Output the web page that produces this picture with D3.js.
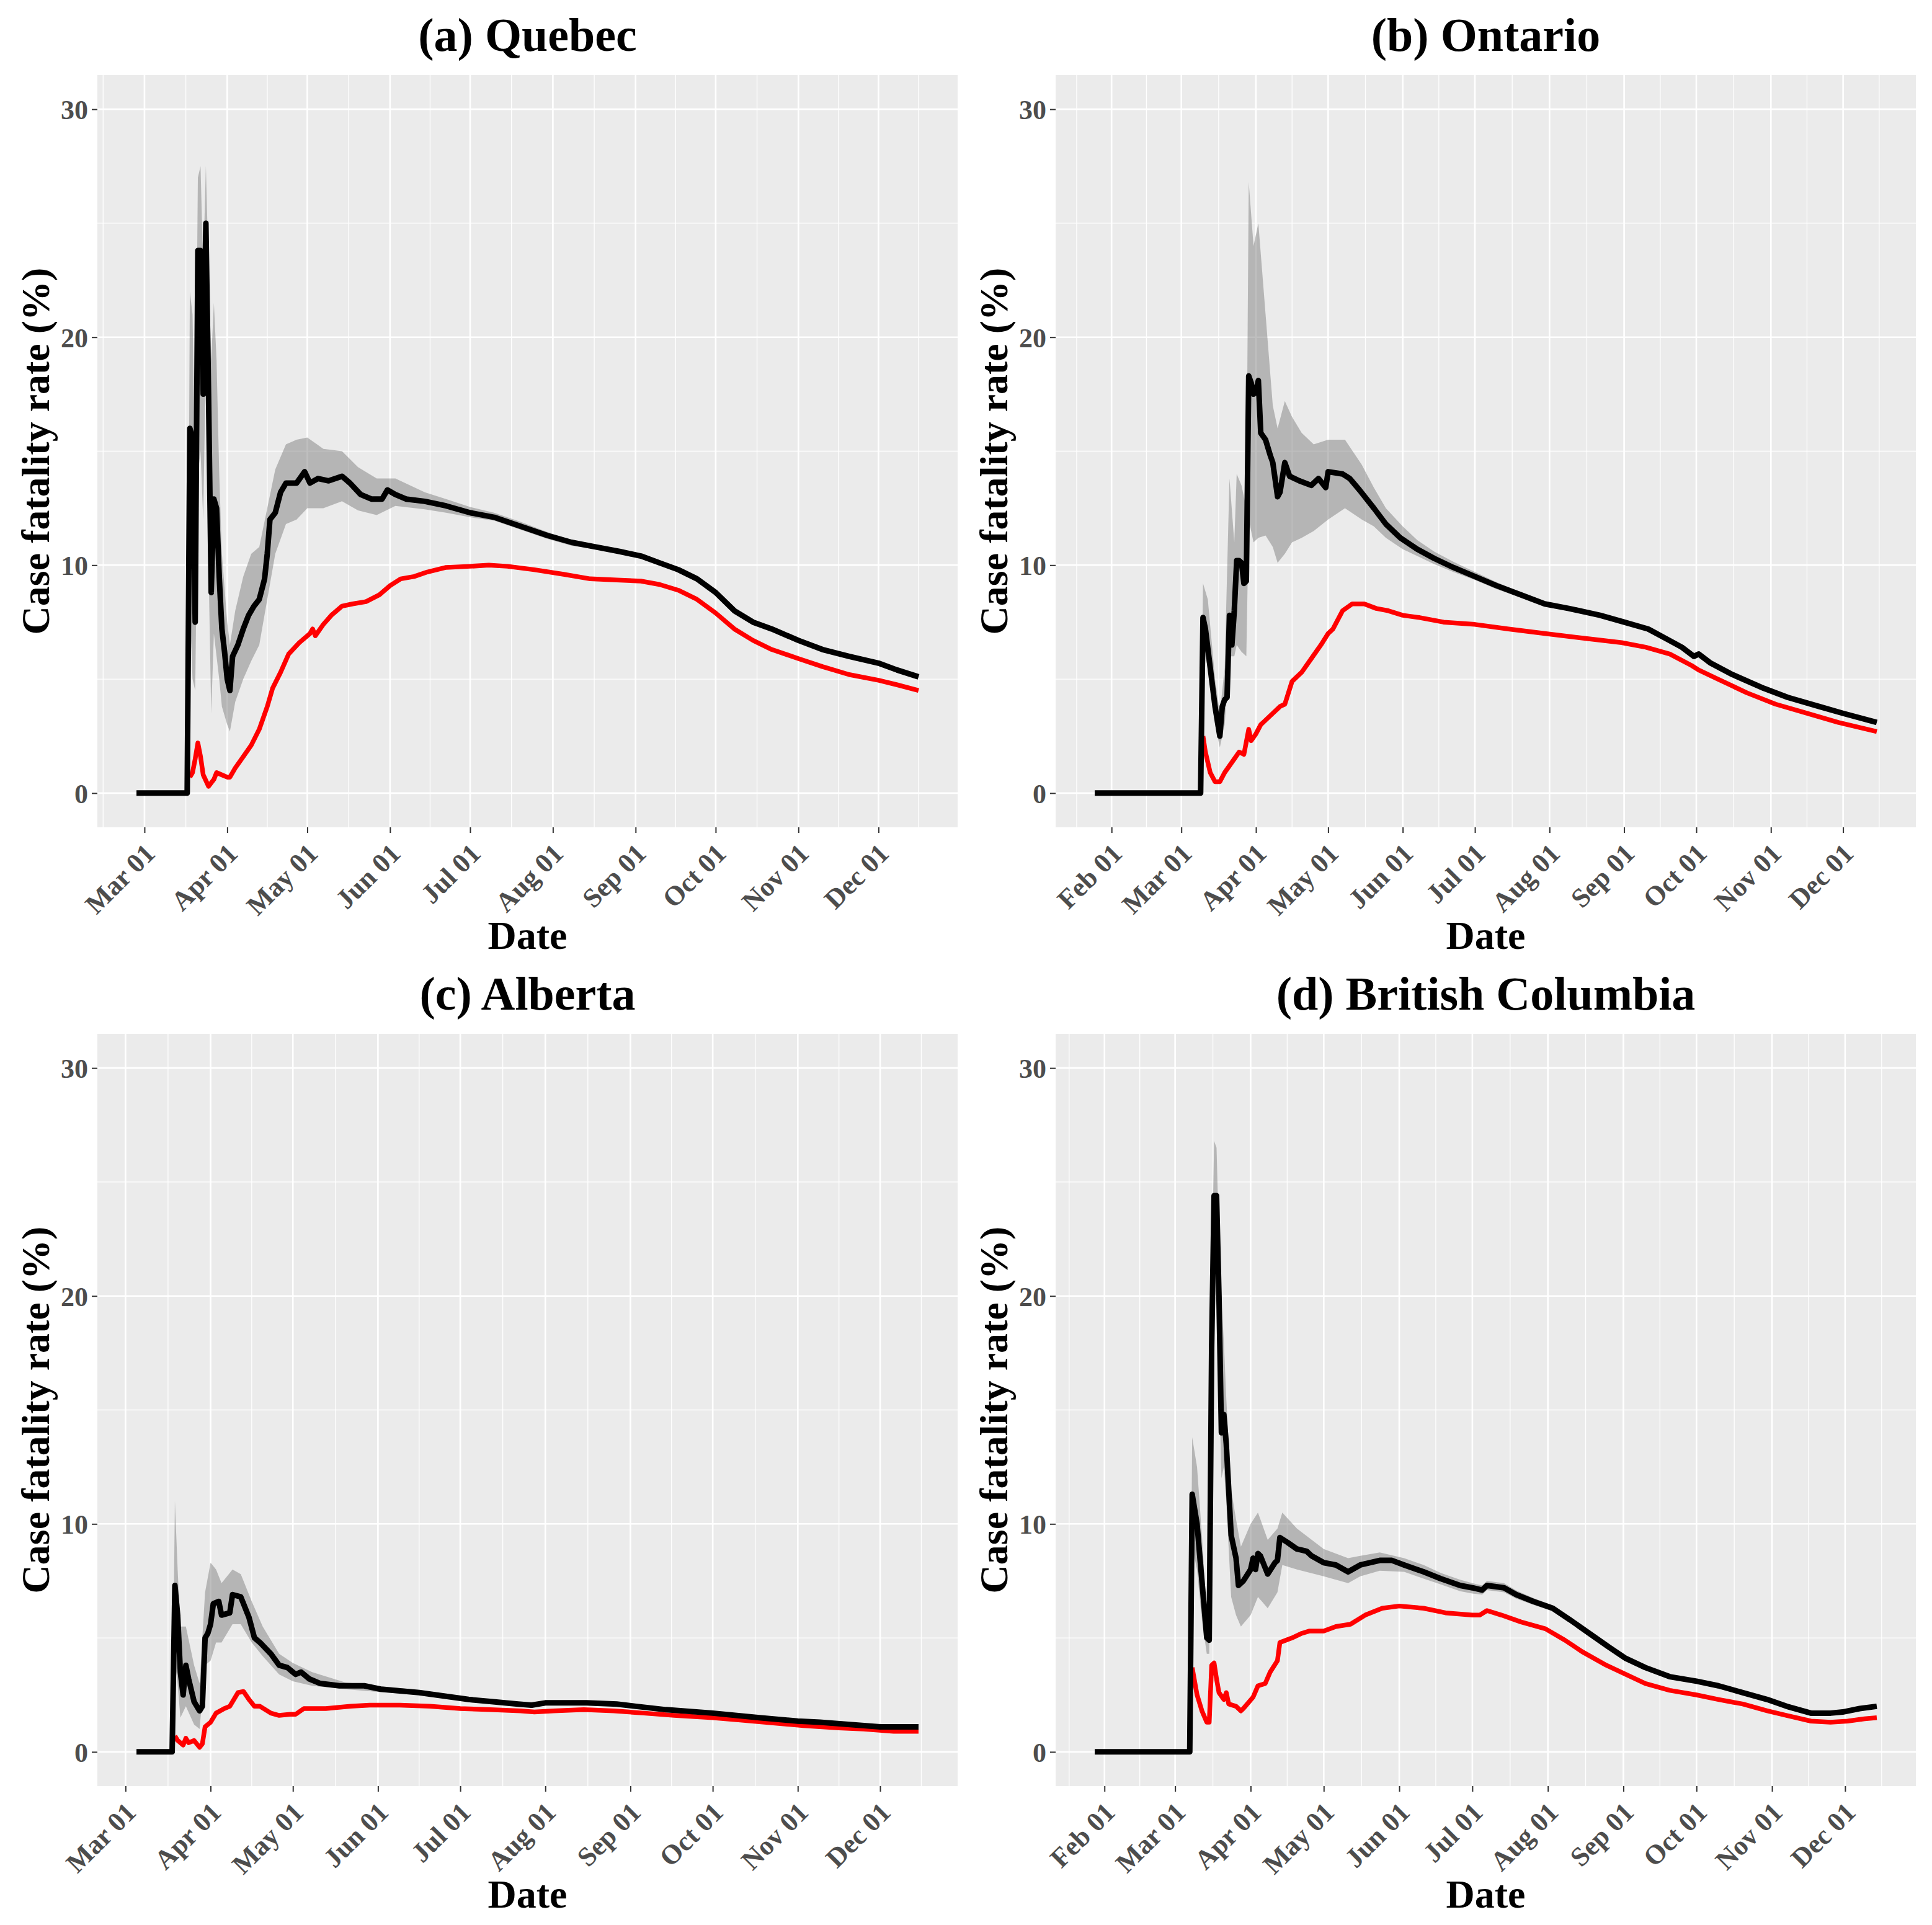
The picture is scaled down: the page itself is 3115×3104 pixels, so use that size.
<!DOCTYPE html>
<html>
<head>
<meta charset="utf-8">
<script src="https://cdn.jsdelivr.net/npm/d3@7"></script>
<style>
body { margin: 0; background: #fff; }
text { font-family: "Liberation Serif", "Times New Roman", serif; font-weight: bold; }
</style>
</head>
<body>
<svg id="chart"></svg>
<script>
const titles = ["(a) Quebec", "(b) Ontario", "(c) Alberta", "(d) British Columbia"];
const yTicks = [0, 10, 20, 30];

// (a) Quebec: black = CFR estimate, red = second estimate, band = [date, low, high]
const qcCfr = [["02-27",0],["03-17",0],["03-18",16.0],["03-19",15.6],["03-20",7.5],["03-21",23.8],["03-22",23.8],
["03-23",17.5],["03-24",25.0],["03-25",17.5],["03-26",8.8],["03-27",12.9],["03-28",12.5],["03-29",9.5],["03-30",7.2],
["03-31",6.2],["04-01",5.0],["04-02",4.5],["04-03",6.0],["04-05",6.5],["04-07",7.2],["04-09",7.8],["04-11",8.2],
["04-13",8.5],["04-15",9.4],["04-16",10.5],["04-17",12.0],["04-19",12.3],["04-21",13.2],["04-23",13.6],["04-27",13.6],
["04-30",14.1],["05-02",13.6],["05-05",13.8],["05-09",13.7],["05-14",13.9],["05-17",13.6],["05-21",13.1],["05-25",12.9],
["05-29",12.9],["05-31",13.3],["06-03",13.1],["06-07",12.9],["06-14",12.8],["06-22",12.6],["07-01",12.3],["07-10",12.1],
["07-20",11.7],["07-30",11.3],["08-08",11.0],["08-17",10.8],["08-26",10.6],["09-03",10.4],["09-10",10.1],["09-17",9.8],
["09-24",9.4],["10-01",8.8],["10-08",8.0],["10-15",7.5],["10-22",7.2],["11-01",6.7],["11-10",6.3],["11-20",6.0],
["12-01",5.7],["12-08",5.4],["12-16",5.1]];
const qcRed = [["03-18",0.7],["03-19",0.9],["03-20",1.5],["03-21",2.2],["03-22",1.6],["03-23",0.8],["03-25",0.3],
["03-27",0.6],["03-28",0.9],["03-30",0.8],["04-01",0.7],["04-02",0.7],["04-04",1.1],["04-07",1.6],["04-10",2.1],
["04-13",2.8],["04-16",3.8],["04-18",4.6],["04-21",5.3],["04-24",6.1],["04-28",6.6],["05-02",7.0],["05-03",7.2],
["05-04",6.9],["05-07",7.4],["05-10",7.8],["05-14",8.2],["05-18",8.3],["05-23",8.4],["05-28",8.7],["06-01",9.1],
["06-05",9.4],["06-10",9.5],["06-15",9.7],["06-22",9.9],["07-01",9.95],["07-08",10.0],["07-15",9.95],["07-25",9.8],
["08-05",9.6],["08-15",9.4],["08-25",9.35],["09-03",9.3],["09-10",9.15],["09-17",8.9],["09-24",8.5],["10-01",7.9],
["10-08",7.2],["10-15",6.7],["10-22",6.3],["11-01",5.9],["11-10",5.55],["11-20",5.2],["12-01",4.95],["12-08",4.75],
["12-16",4.5]];
const qcBand = [["03-17",0,0],["03-18",8,22],["03-19",5,21],["03-20",4.5,14],["03-21",14,27],["03-22",15,27.5],
["03-23",12,23],["03-24",19,27.5],["03-25",10,23],["03-26",3.5,19],["03-27",7,21.5],["03-28",6,19],["03-29",5,14],
["03-30",3.8,10.5],["04-01",3.0,7.5],["04-02",2.7,6.5],["04-04",4.0,8.0],["04-07",5.0,9.5],["04-10",5.8,10.5],
["04-13",6.5,10.8],["04-16",8.5,12.5],["04-19",10.5,14.2],["04-23",11.8,15.3],["04-27",12.0,15.5],["05-01",12.5,15.6],
["05-07",12.5,15.1],["05-14",12.8,15.0],["05-20",12.4,14.3],["05-27",12.2,13.8],["06-03",12.6,13.8],["06-14",12.45,13.2],
["06-22",12.3,12.9],["07-01",12.1,12.55],["07-10",11.95,12.3],["07-20",11.55,11.9],["07-30",11.15,11.45],
["08-08",10.85,11.1],["08-17",10.7,10.9],["08-26",10.5,10.7],["09-03",10.3,10.5],["09-10",10.0,10.2],["09-17",9.7,9.9],
["09-24",9.3,9.5],["10-01",8.7,8.9],["10-08",7.9,8.1],["10-15",7.42,7.58],["10-22",7.13,7.27],["11-01",6.64,6.76],
["11-10",6.25,6.35],["11-20",5.95,6.05],["12-01",5.65,5.75],["12-08",5.36,5.44],["12-16",5.06,5.14]];

// (b) Ontario
const onCfr = [["01-25",0],["03-09",0],["03-10",7.7],["03-11",7.2],["03-13",5.5],["03-15",3.8],["03-17",2.5],
["03-18",3.8],["03-19",4.1],["03-20",4.2],["03-21",7.8],["03-22",6.5],["03-23",8.0],["03-24",10.2],["03-25",10.2],
["03-26",10.1],["03-27",9.2],["03-28",9.3],["03-29",18.3],["03-30",18.0],["03-31",17.5],["04-01",17.6],["04-02",18.1],
["04-03",15.8],["04-05",15.5],["04-07",14.8],["04-08",14.5],["04-10",13.0],["04-11",13.2],["04-13",14.5],["04-15",13.9],
["04-19",13.7],["04-24",13.5],["04-27",13.8],["04-30",13.4],["05-01",14.1],["05-07",14.0],["05-10",13.8],["05-14",13.3],
["05-20",12.5],["05-25",11.8],["05-31",11.2],["06-07",10.7],["06-14",10.3],["06-22",9.9],["07-01",9.5],["07-10",9.1],
["07-20",8.7],["07-30",8.3],["08-09",8.1],["08-22",7.8],["09-01",7.5],["09-11",7.2],["09-18",6.8],["09-25",6.4],
["09-30",6.0],["10-02",6.1],["10-07",5.7],["10-16",5.2],["10-29",4.6],["11-08",4.2],["11-21",3.8],["12-01",3.5],
["12-15",3.1]];
const onRed = [["03-10",2.5],["03-11",1.8],["03-13",0.9],["03-15",0.5],["03-17",0.5],["03-19",0.9],["03-21",1.2],
["03-23",1.5],["03-25",1.8],["03-27",1.7],["03-29",2.8],["03-30",2.3],["04-01",2.6],["04-03",3.0],["04-07",3.4],
["04-11",3.8],["04-13",3.9],["04-16",4.9],["04-20",5.3],["04-24",5.9],["04-28",6.5],["05-01",7.0],["05-03",7.2],
["05-07",8.0],["05-11",8.3],["05-16",8.3],["05-21",8.1],["05-26",8.0],["06-01",7.8],["06-08",7.7],["06-18",7.5],
["07-01",7.4],["07-15",7.2],["07-30",7.0],["08-15",6.8],["08-31",6.6],["09-10",6.4],["09-20",6.1],["09-29",5.6],
["10-02",5.4],["10-10",5.0],["10-22",4.4],["11-03",3.9],["11-16",3.5],["11-29",3.1],["12-15",2.7]];
const onBand = [["03-09",0,0],["03-10",6.5,9.2],["03-12",5.5,8.5],["03-15",3.0,5.0],["03-17",2.0,3.5],["03-19",3.0,5.5],
["03-21",6.0,13.8],["03-23",6.0,11.0],["03-24",6.5,14.0],["03-26",6.2,13.5],["03-28",6.0,12.5],["03-29",12.0,26.8],
["03-31",11.0,24.0],["04-02",11.2,25.0],["04-05",11.3,21.0],["04-08",10.8,17.0],["04-10",10.1,16.0],["04-13",10.5,17.2],
["04-16",11.0,16.5],["04-20",11.2,15.8],["04-25",11.5,15.3],["05-01",12.0,15.5],["05-08",12.5,15.5],["05-15",12.0,14.4],
["05-20",11.7,13.4],["05-25",11.2,12.5],["06-01",10.7,11.7],["06-07",10.4,11.1],["06-14",10.05,10.6],["06-22",9.7,10.15],
["07-01",9.35,9.7],["07-10",8.95,9.25],["07-20",8.58,8.82],["07-30",8.2,8.4],["08-09",8.0,8.2],["08-22",7.72,7.88],
["09-01",7.43,7.57],["09-11",7.14,7.26],["09-18",6.75,6.85],["09-25",6.35,6.45],["09-30",5.95,6.05],["10-02",6.05,6.15],
["10-07",5.65,5.75],["10-16",5.16,5.24],["10-29",4.56,4.64],["11-08",4.17,4.23],["11-21",3.77,3.83],["12-01",3.47,3.53],
["12-15",3.07,3.13]];

// (c) Alberta
const abCfr = [["03-05",0],["03-18",0],["03-19",7.3],["03-20",6.0],["03-21",3.5],["03-22",2.5],["03-23",3.8],
["03-24",3.2],["03-26",2.2],["03-28",1.8],["03-29",2.0],["03-30",5.0],["03-31",5.2],["04-01",5.6],["04-02",6.5],
["04-04",6.6],["04-05",6.0],["04-08",6.1],["04-09",6.9],["04-12",6.8],["04-13",6.5],["04-15",5.9],["04-17",5.0],
["04-19",4.8],["04-23",4.3],["04-26",3.8],["04-29",3.7],["05-01",3.5],["05-02",3.4],["05-04",3.5],["05-07",3.2],
["05-11",3.0],["05-18",2.9],["05-27",2.9],["06-02",2.75],["06-16",2.6],["06-25",2.45],["07-04",2.3],["07-13",2.2],
["07-22",2.1],["07-27",2.05],["08-01",2.15],["08-16",2.15],["08-27",2.1],["09-03",2.0],["09-14",1.85],["10-01",1.7],
["10-18",1.5],["11-01",1.35],["11-09",1.3],["11-20",1.2],["12-01",1.1],["12-15",1.1]];
const abRed = [["03-19",0.7],["03-20",0.5],["03-22",0.3],["03-23",0.6],["03-24",0.4],["03-26",0.5],["03-28",0.2],
["03-29",0.35],["03-30",1.1],["04-01",1.3],["04-03",1.7],["04-06",1.9],["04-08",2.0],["04-11",2.6],["04-13",2.65],
["04-15",2.3],["04-17",2.0],["04-19",2.0],["04-23",1.7],["04-26",1.6],["04-30",1.65],["05-02",1.65],["05-05",1.9],
["05-13",1.9],["05-22",2.0],["05-29",2.05],["06-09",2.05],["06-20",2.0],["07-01",1.9],["07-12",1.85],["07-23",1.8],
["07-28",1.75],["08-04",1.8],["08-15",1.85],["08-26",1.8],["09-06",1.7],["09-17",1.6],["10-01",1.5],["10-11",1.4],
["10-25",1.25],["11-03",1.15],["11-16",1.05],["11-25",1.0],["12-06",0.9],["12-15",0.9]];
const abBand = [["03-18",0,0],["03-19",4.0,11.0],["03-20",3.0,8.0],["03-21",1.5,5.5],["03-23",2.0,5.5],["03-26",1.2,3.8],
["03-28",1.0,3.0],["03-30",3.8,7.0],["04-01",4.0,8.3],["04-03",4.8,8.0],["04-05",4.8,7.4],["04-09",5.6,8.0],
["04-12",5.6,7.8],["04-16",4.8,6.6],["04-20",4.2,5.5],["04-26",3.4,4.3],["05-01",3.1,3.9],["05-08",2.9,3.5],
["05-20",2.75,3.05],["06-02",2.62,2.88],["06-16",2.5,2.72],["06-25",2.36,2.55],["07-04",2.22,2.38],["07-13",2.13,2.27],
["07-22",2.04,2.16],["07-27",1.99,2.11],["08-01",2.09,2.21],["08-16",2.09,2.21],["08-27",2.05,2.15],["09-03",1.95,2.05],
["09-14",1.8,1.9],["10-01",1.66,1.74],["10-18",1.46,1.54],["11-01",1.32,1.38],["11-09",1.27,1.33],["11-20",1.17,1.23],
["12-01",1.07,1.13],["12-15",1.07,1.13]];

// (d) British Columbia
const bcCfr = [["01-28",0],["03-07",0],["03-08",11.3],["03-10",10.0],["03-12",7.5],["03-14",5.0],["03-15",4.9],
["03-16",17.8],["03-17",24.4],["03-18",24.4],["03-19",20.0],["03-20",14.0],["03-21",14.8],["03-22",13.5],["03-24",9.5],
["03-26",8.5],["03-27",7.3],["03-29",7.5],["04-01",8.0],["04-02",8.5],["04-03",8.0],["04-04",8.7],["04-05",8.6],
["04-08",7.8],["04-11",8.3],["04-12",8.4],["04-13",9.4],["04-16",9.2],["04-20",8.9],["04-24",8.8],["04-26",8.6],
["05-01",8.3],["05-06",8.2],["05-11",7.9],["05-16",8.2],["05-24",8.4],["05-29",8.4],["06-03",8.2],["06-11",7.9],
["06-18",7.6],["06-26",7.3],["07-01",7.2],["07-05",7.1],["07-07",7.3],["07-14",7.2],["07-19",6.9],["07-26",6.6],
["08-03",6.3],["08-10",5.8],["08-18",5.2],["08-26",4.6],["09-02",4.1],["09-10",3.7],["09-20",3.3],["10-01",3.1],
["10-10",2.9],["10-20",2.6],["10-30",2.3],["11-07",2.0],["11-17",1.7],["11-25",1.7],["11-30",1.75],["12-07",1.9],
["12-14",2.0]];
const bcRed = [["03-08",3.7],["03-10",2.5],["03-12",1.8],["03-14",1.3],["03-15",1.3],["03-16",3.8],["03-17",3.9],
["03-18",3.2],["03-19",2.6],["03-21",2.3],["03-22",2.6],["03-23",2.1],["03-26",2.0],["03-28",1.8],["03-29",1.9],
["04-02",2.4],["04-04",2.9],["04-07",3.0],["04-09",3.5],["04-12",4.0],["04-13",4.8],["04-18",5.0],["04-22",5.2],
["04-25",5.3],["05-01",5.3],["05-06",5.5],["05-12",5.6],["05-18",6.0],["05-25",6.3],["06-01",6.4],["06-11",6.3],
["06-20",6.1],["07-01",6.0],["07-04",6.0],["07-07",6.2],["07-13",6.0],["07-21",5.7],["07-31",5.4],["08-08",4.9],
["08-15",4.4],["08-25",3.8],["09-02",3.4],["09-10",3.0],["09-20",2.7],["10-01",2.5],["10-10",2.3],["10-20",2.1],
["10-30",1.8],["11-07",1.6],["11-17",1.35],["11-25",1.3],["12-02",1.35],["12-09",1.45],["12-14",1.5]];
const bcBand = [["03-07",0,0],["03-08",9.0,13.8],["03-10",8.0,12.5],["03-12",5.8,9.5],["03-14",4.3,6.0],["03-15",4.3,6.0],
["03-16",15.0,20.5],["03-17",21.5,26.8],["03-18",21.0,26.5],["03-19",16.5,22.5],["03-20",12.0,19.8],["03-21",12.5,18.0],
["03-22",11.0,15.5],["03-24",6.8,11.5],["03-26",6.0,10.2],["03-28",5.5,9.0],["04-01",6.0,10.0],["04-04",6.8,10.5],
["04-08",6.3,9.3],["04-12",7.0,9.8],["04-14",8.2,10.5],["04-20",8.0,9.8],["05-01",7.7,8.9],["05-11",7.4,8.5],
["05-16",7.7,8.6],["05-24",7.95,8.75],["06-03",7.9,8.5],["06-11",7.6,8.2],["06-18",7.35,7.85],["06-26",7.05,7.55],
["07-01",6.95,7.4],["07-05",6.9,7.3],["07-07",7.1,7.5],["07-14",7.0,7.4],["07-19",6.72,7.08],["07-26",6.45,6.75],
["08-03",6.17,6.43],["08-10",5.68,5.92],["08-18",5.1,5.3],["08-26",4.52,4.68],["09-02",4.03,4.17],["09-10",3.64,3.76],
["09-20",3.25,3.35],["10-01",3.05,3.15],["10-10",2.86,2.94],["10-20",2.56,2.64],["10-30",2.27,2.33],["11-07",1.97,2.03],
["11-17",1.67,1.73],["11-25",1.67,1.73],["11-30",1.72,1.78],["12-07",1.87,1.93],["12-14",1.97,2.03]];

const parseDay = d3.timeParse("%Y-%m-%d");
const toDate = s => parseDay("2020-" + s);

const panels = [
  {title: titles[0], cfr: qcCfr, red: qcRed, band: qcBand},
  {title: titles[1], cfr: onCfr, red: onRed, band: onBand},
  {title: titles[2], cfr: abCfr, red: abRed, band: abBand},
  {title: titles[3], cfr: bcCfr, red: bcRed, band: bcBand}
];

const svg = d3.select("#chart")
  .attr("width", 3115)
  .attr("height", 3104);

const panelW = 1387, panelH = 1213;
const lefts = [157, 1702], tops = [121, 1667];

panels.forEach((p, i) => {
  const left = lefts[i % 2], top = tops[Math.floor(i / 2)];
  const g = svg.append("g").attr("transform", `translate(${left},${top})`);

  const ext = d3.extent(p.cfr, d => toDate(d[0]));
  const pad = (ext[1] - ext[0]) * 0.05;
  const x = d3.scaleTime()
    .domain([new Date(+ext[0] - pad), new Date(+ext[1] + pad)])
    .range([0, panelW]);
  const y = d3.scaleLinear().domain([-1.5, 31.5]).range([panelH, 0]);

  // panel background + grid
  g.append("rect").attr("width", panelW).attr("height", panelH).attr("fill", "#EBEBEB");

  const majors = x.ticks(d3.timeMonth.every(1));
  const minors = [];
  for (let k = 0; k < majors.length - 1; k++) {
    minors.push(new Date((+majors[k] + +majors[k + 1]) / 2));
  }
  minors.unshift(new Date(+majors[0] - (majors[1] - majors[0]) / 2));
  const n = majors.length;
  minors.push(new Date(+majors[n - 1] + (majors[n - 1] - majors[n - 2]) / 2));
  const dom = x.domain();
  const minorsIn = minors.filter(d => d >= dom[0] && d <= dom[1]);

  g.selectAll(".xminor").data(minorsIn).enter().append("line")
    .attr("x1", d => x(d)).attr("x2", d => x(d))
    .attr("y1", 0).attr("y2", panelH)
    .attr("stroke", "#fff").attr("stroke-width", 1.3);
  g.selectAll(".yminor").data([5, 15, 25]).enter().append("line")
    .attr("x1", 0).attr("x2", panelW)
    .attr("y1", d => y(d)).attr("y2", d => y(d))
    .attr("stroke", "#fff").attr("stroke-width", 1.3);
  g.selectAll(".xmajor").data(majors).enter().append("line")
    .attr("x1", d => x(d)).attr("x2", d => x(d))
    .attr("y1", 0).attr("y2", panelH)
    .attr("stroke", "#fff").attr("stroke-width", 2.6);
  g.selectAll(".ymajor").data(yTicks).enter().append("line")
    .attr("x1", 0).attr("x2", panelW)
    .attr("y1", d => y(d)).attr("y2", d => y(d))
    .attr("stroke", "#fff").attr("stroke-width", 2.6);

  // ribbon and lines
  const area = d3.area()
    .x(d => x(toDate(d[0])))
    .y0(d => y(d[1]))
    .y1(d => y(d[2]));
  g.append("path").datum(p.band)
    .attr("d", area)
    .attr("fill", "#7F7F7F")
    .attr("fill-opacity", 0.5);

  const line = d3.line()
    .x(d => x(toDate(d[0])))
    .y(d => y(d[1]));
  g.append("path").datum(p.red)
    .attr("d", line)
    .attr("fill", "none")
    .attr("stroke", "#FF0000")
    .attr("stroke-width", 7.5)
    .attr("stroke-linejoin", "round");
  g.append("path").datum(p.cfr)
    .attr("d", line)
    .attr("fill", "none")
    .attr("stroke", "#000")
    .attr("stroke-width", 9)
    .attr("stroke-linejoin", "round");

  // axes
  const xAxis = g.append("g")
    .attr("transform", `translate(0,${panelH})`)
    .call(d3.axisBottom(x).tickValues(majors).tickFormat(d3.timeFormat("%b %d")).tickSize(9));
  xAxis.select(".domain").remove();
  xAxis.selectAll("line").attr("stroke", "#333").attr("stroke-width", 2);
  xAxis.selectAll("text")
    .attr("x", null).attr("y", null).attr("dy", null)
    .attr("text-anchor", "end")
    .attr("transform", "translate(19,45) rotate(-45)")
    .attr("fill", "#4D4D4D")
    .style("font-size", "44px");

  const yAxis = g.append("g")
    .call(d3.axisLeft(y).tickValues(yTicks).tickSize(9).tickPadding(6));
  yAxis.select(".domain").remove();
  yAxis.selectAll("line").attr("stroke", "#333").attr("stroke-width", 2);
  yAxis.selectAll("text")
    .attr("dy", "0.35em")
    .attr("fill", "#4D4D4D")
    .style("font-size", "44px");

  // titles
  g.append("text")
    .attr("x", panelW / 2).attr("y", -39)
    .attr("text-anchor", "middle")
    .style("font-size", "76px")
    .text(p.title);
  g.append("text")
    .attr("x", panelW / 2).attr("y", panelH + 196)
    .attr("text-anchor", "middle")
    .style("font-size", "64px")
    .text("Date");
  g.append("text")
    .attr("transform", `translate(-78,${panelH / 2}) rotate(-90)`)
    .attr("text-anchor", "middle")
    .style("font-size", "64px")
    .text("Case fatality rate (%)");
});
</script>
</body>
</html>
